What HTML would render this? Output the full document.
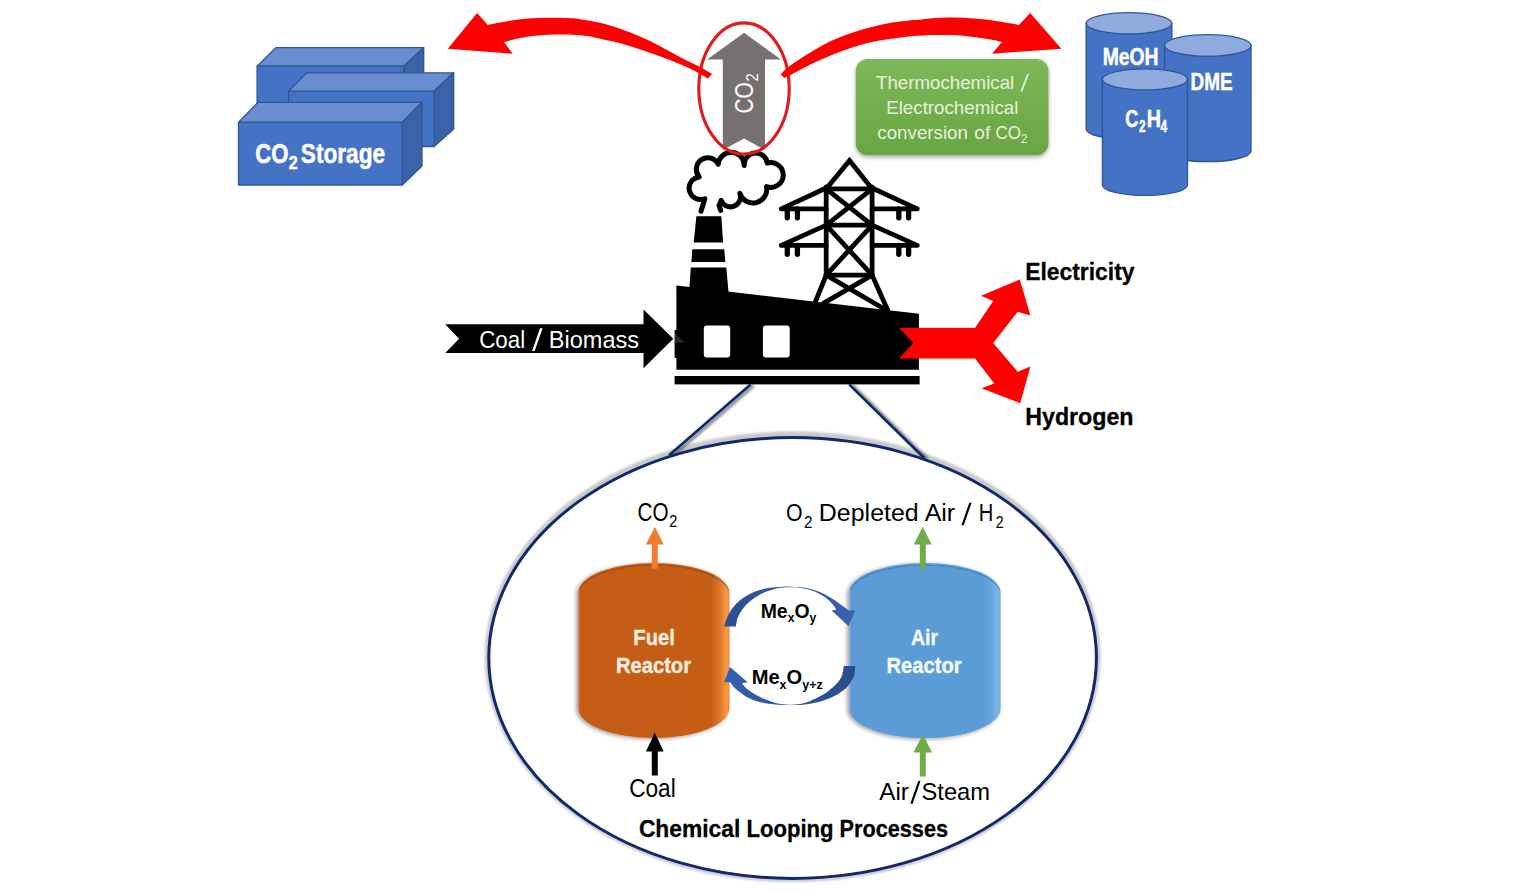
<!DOCTYPE html>
<html>
<head>
<meta charset="utf-8">
<title>Chemical Looping Processes</title>
<style>
html,body{margin:0;padding:0;background:#ffffff;}
body{width:1537px;height:893px;overflow:hidden;font-family:"Liberation Sans",sans-serif;}
svg{display:block;}
text{font-family:"Liberation Sans",sans-serif;}
</style>
</head>
<body>
<svg width="1537" height="893" viewBox="0 0 1537 893">
<defs>
<linearGradient id="gGreen" x1="0" y1="0" x2="0" y2="1"><stop offset="0" stop-color="#7CB85A"/><stop offset="1" stop-color="#6AA543"/></linearGradient>
<filter id="fShadow" x="-10%" y="-10%" width="120%" height="130%"><feGaussianBlur in="SourceAlpha" stdDeviation="2"/><feOffset dx="0" dy="2"/><feComponentTransfer><feFuncA type="linear" slope="0.35"/></feComponentTransfer><feMerge><feMergeNode/><feMergeNode in="SourceGraphic"/></feMerge></filter>
<linearGradient id="gOrange" x1="0" y1="0" x2="1" y2="0"><stop offset="0" stop-color="#CF7436"/><stop offset="0.015" stop-color="#C55C13"/><stop offset="0.88" stop-color="#C55E17"/><stop offset="0.94" stop-color="#DE792D"/><stop offset="0.982" stop-color="#FB9A45"/><stop offset="1" stop-color="#E58535"/></linearGradient>
<linearGradient id="gBlue" x1="0" y1="0" x2="1" y2="0"><stop offset="0" stop-color="#73AADC"/><stop offset="0.015" stop-color="#5B9BD5"/><stop offset="0.88" stop-color="#5C9CD6"/><stop offset="0.94" stop-color="#68A6DD"/><stop offset="0.982" stop-color="#7DB8EC"/><stop offset="1" stop-color="#6FAADF"/></linearGradient>
<linearGradient id="gLoopU" x1="0" y1="0" x2="1" y2="0"><stop offset="0" stop-color="#2B4F91"/><stop offset="1" stop-color="#3A63AE"/></linearGradient>
<linearGradient id="gLoopL" x1="0" y1="0" x2="1" y2="0"><stop offset="0" stop-color="#3360B4"/><stop offset="1" stop-color="#2A4C8C"/></linearGradient>
<filter id="fSoft" x="-10%" y="-10%" width="120%" height="120%"><feGaussianBlur in="SourceAlpha" stdDeviation="2"/><feOffset dx="-2.5" dy="0.5"/><feComponentTransfer><feFuncA type="linear" slope="0.4"/></feComponentTransfer><feMerge><feMergeNode/><feMergeNode in="SourceGraphic"/></feMerge></filter>
<filter id="fEll" x="-10%" y="-10%" width="120%" height="120%"><feGaussianBlur in="SourceAlpha" stdDeviation="1.4"/><feOffset dx="3" dy="0.5"/><feComponentTransfer><feFuncA type="linear" slope="0.6"/></feComponentTransfer><feMerge><feMergeNode/><feMergeNode in="SourceGraphic"/></feMerge></filter>
<filter id="fEll2" x="-5%" y="-5%" width="110%" height="110%"><feGaussianBlur in="SourceAlpha" stdDeviation="1.8"/><feOffset dx="0" dy="-3.2"/><feComponentTransfer><feFuncA type="linear" slope="0.38"/></feComponentTransfer><feMerge><feMergeNode/><feMergeNode in="SourceGraphic"/></feMerge></filter>
<filter id="fBlur1" x="-3%" y="-3%" width="106%" height="106%"><feGaussianBlur stdDeviation="0.9"/></filter>
</defs>
<rect x="0" y="0" width="1537" height="893" fill="#ffffff"/>
<!--STORAGE-->
<g stroke="#2F5597" stroke-width="1.3" stroke-linejoin="round">
 <!-- box1 back-left -->
 <polygon points="257.1,66.2 275.8,47.7 423.7,47.7 403.7,66.2" fill="#698ED0"/>
 <polygon points="403.7,66.2 423.7,47.7 423.7,110 403.7,128" fill="#3A62A6"/>
 <rect x="257.1" y="66.2" width="146.6" height="62" fill="#4472C4"/>
 <!-- box2 middle-right -->
 <polygon points="288.5,91.3 306.6,72.8 453.7,72.8 434.1,91.3" fill="#698ED0"/>
 <polygon points="434.1,91.3 453.7,72.8 453.7,129 434.1,146.5" fill="#3A62A6"/>
 <rect x="288.5" y="91.3" width="145.6" height="55.2" fill="#4472C4"/>
 <!-- box3 front -->
 <polygon points="238.5,122.3 258,102.3 422,102.3 402.3,122.3" fill="#698ED0"/>
 <polygon points="402.3,122.3 422,102.3 422,166 402.3,185.1" fill="#3A62A6"/>
 <rect x="238.5" y="122.3" width="163.8" height="62.8" fill="#4472C4"/>
</g>
<g fill="#ffffff" stroke="#ffffff" stroke-width="0.5"><text x="255.30" y="163.3" font-size="28" font-weight="bold" textLength="33.23" lengthAdjust="spacingAndGlyphs">CO</text><text x="288.65" y="168.8" font-size="18.5" font-weight="bold" textLength="8.99" lengthAdjust="spacingAndGlyphs">2</text><text x="300.79" y="163.3" font-size="28" font-weight="bold" textLength="84.36" lengthAdjust="spacingAndGlyphs">Storage</text></g>
<!--GREENBOX-->
<rect x="855.7" y="59.1" width="192.8" height="96.1" rx="12" ry="12" fill="url(#gGreen)" filter="url(#fShadow)"/>
<g fill="#E6F3DB"><text x="876.01" y="88.6" font-size="18.2" textLength="138.29" lengthAdjust="spacingAndGlyphs">Thermochemical</text><polygon points="1020.4,91.6 1022.3,91.6 1029,74 1027.1,74"/><text x="886.20" y="113.7" font-size="18.2" textLength="132.26" lengthAdjust="spacingAndGlyphs">Electrochemical</text><text x="877.27" y="138.6" font-size="18.2" textLength="90.70" lengthAdjust="spacingAndGlyphs">conversion</text><text x="974.31" y="138.6" font-size="18.2" textLength="15.87" lengthAdjust="spacingAndGlyphs">of</text><text x="995.48" y="138.6" font-size="18.2" textLength="25.42" lengthAdjust="spacingAndGlyphs">CO</text><text x="1020.96" y="142.8" font-size="12" textLength="6.43" lengthAdjust="spacingAndGlyphs">2</text></g>
<!--CYLINDERS-->
<g stroke="#2F5597" stroke-width="1.3">
 <path d="M1086.1,23.35 L1086.1,128.9 A42.9,10.65 0 0 0 1171.9,128.9 L1171.9,23.35 Z" fill="#4472C4"/>
 <ellipse cx="1129" cy="23.35" rx="42.9" ry="10.65" fill="#8FAADC"/>
 <path d="M1164.6,45.45 L1164.6,150.9 A43.2,10.75 0 0 0 1251,150.9 L1251,45.45 Z" fill="#4472C4"/>
 <ellipse cx="1207.8" cy="45.45" rx="43.2" ry="10.75" fill="#8FAADC"/>
 <path d="M1102.4,79.35 L1102.4,184.9 A42.55,10.55 0 0 0 1187.5,184.9 L1187.5,79.35 Z" fill="#4472C4"/>
 <ellipse cx="1144.95" cy="79.35" rx="42.55" ry="10.55" fill="#8FAADC"/>
</g>
<g fill="#ffffff" stroke="#ffffff" stroke-width="0.5"><text x="1102.72" y="64.6" font-size="23.5" font-weight="bold" textLength="55.85" lengthAdjust="spacingAndGlyphs">MeOH</text><text x="1190.47" y="90.4" font-size="23.5" font-weight="bold" textLength="42.13" lengthAdjust="spacingAndGlyphs">DME</text><text x="1125.23" y="127.3" font-size="23.5" font-weight="bold" textLength="12.98" lengthAdjust="spacingAndGlyphs">C</text><text x="1139.04" y="131.8" font-size="15.6" font-weight="bold" textLength="6.61" lengthAdjust="spacingAndGlyphs">2</text><text x="1146.74" y="127.3" font-size="23.5" font-weight="bold" textLength="14.26" lengthAdjust="spacingAndGlyphs">H</text><text x="1160.45" y="131.8" font-size="15.6" font-weight="bold" textLength="6.59" lengthAdjust="spacingAndGlyphs">4</text></g>
<!--FACTORY-->
<g fill="none" stroke="#000000" stroke-width="4.8" stroke-linecap="round" stroke-linejoin="round">
 <!-- pylon -->
 <path d="M826.2,188.8 L849.5,160.6 L872.1,188.8" stroke-linejoin="miter"/>
 <path d="M826.2,187 L826.2,275.1 M872.1,187 L872.1,275.1"/>
 <path d="M826.2,188.8 H872.1 M826.2,225.1 H872.1 M826.2,275.1 H872.1"/>
 <path d="M826.2,188 L781.3,208.9 H826.2 M872.1,188 L917.2,208.9 H872.1"/>
 <path d="M826.2,225.1 L781.3,245.4 H826.2 M872.1,225.1 L917.2,245.4 H872.1"/>
 <path d="M787.3,208.9 V217.8 M797.4,208.9 V217.8 M898.8,208.9 V217.8 M908.6,208.9 V217.8" stroke-width="5.3"/>
 <path d="M787.3,245.4 V254.3 M797.4,245.4 V254.3 M898.8,245.4 V254.3 M908.6,245.4 V254.3" stroke-width="5.3"/>
 <path d="M826.2,188.8 L872.1,225.1 M872.1,188.8 L826.2,225.1"/>
 <path d="M826.2,225.1 L872.1,275.1 M872.1,225.1 L826.2,275.1"/>
 <path d="M826.2,275.1 L815.3,302 M872.1,275.1 L887.6,310"/>
 <path d="M826.2,275.1 L884.3,309 M872.1,275.1 L823.3,303.4"/>
</g>
<!-- smoke -->
<path d="M701,211.3 L704.8,198.7 A11.36,11.36 0 1 1 699.3,176.9 A11.48,11.48 0 1 1 718.2,164.3 A13.02,13.02 0 0 1 744.2,165.6 A11.62,11.62 0 0 1 767.3,163.1 A12.40,12.40 0 1 1 766.5,186.6 A13.78,13.78 0 0 1 739.8,193.3 A10.00,10.00 0 0 1 721.1,200.4 L719,205.5 L720.7,210.5" fill="#ffffff" stroke="#000000" stroke-width="5" stroke-linecap="round" stroke-linejoin="round"/>
<g fill="#000000">
 <polygon points="696.4,216.2 721.3,216.2 723.1,242.5 693.7,242.5"/>
 <polygon points="692.3,249.3 724.2,249.3 725.4,261.9 691.4,261.9"/>
 <polygon points="690.8,267.6 726.3,267.6 728.6,293 689,293"/>
 <polygon points="676.4,285.5 918.9,313.7 918.9,369.8 676.4,369.8"/>
 <rect x="674.6" y="330" width="4" height="28"/>
 <rect x="674.6" y="376" width="245" height="8.4"/>
</g>
<polygon points="675.2,333.5 684.5,342.6 675.2,342.8" fill="#4a4a4a" opacity="0.55"/>
<rect x="703.8" y="325.4" width="26.4" height="32" rx="3" ry="3" fill="#ffffff"/>
<rect x="762.9" y="325.6" width="26.8" height="31.8" rx="3" ry="3" fill="#ffffff"/>
<!--CO2ARROW-->
<polygon points="744.1,32.7 780.8,59.4 765,59.4 765,150 744.1,138.5 722.8,150 722.8,59.4 707.2,59.4" fill="#767171"/>
<g fill="#ffffff"><text transform="translate(752.9,113.50) rotate(-90)" font-size="25" textLength="31.32" lengthAdjust="spacingAndGlyphs">CO</text><text transform="translate(758.2,81.38) rotate(-90)" font-size="16.6" textLength="8.18" lengthAdjust="spacingAndGlyphs">2</text></g>
<ellipse cx="744" cy="88.5" rx="45.2" ry="65.6" fill="none" stroke="#DE1A1C" stroke-width="3.1"/>
<!--REDARROWS-->
<path d="M447.8,48.8 L477.1,12.9 L487.8,24.9 C491.2,24.2 501.6,22.1 508.3,21.0 C515.0,19.9 521.3,19.0 527.8,18.5 C534.3,18.0 540.9,17.9 547.4,17.8 C553.9,17.7 561.5,17.9 566.9,18.1 C572.3,18.3 574.5,18.4 580.0,19.2 C585.5,20.0 593.5,21.1 600.2,22.7 C606.9,24.3 613.6,26.4 620.3,28.7 C627.0,31.0 633.8,33.8 640.5,36.8 C647.2,39.8 653.9,42.9 660.6,46.4 C667.3,49.9 674.1,54.0 680.8,57.5 C687.5,61.0 695.8,64.7 701.0,67.5 C706.2,70.3 710.2,73.0 712.1,74.1 L708.0,78.6 C706.0,77.4 700.4,73.9 695.9,71.6 C691.4,69.2 686.7,67.0 680.8,64.5 C674.9,62.0 667.3,59.0 660.6,56.5 C653.9,54.0 647.2,51.6 640.5,49.4 C633.8,47.2 627.0,45.1 620.3,43.3 C613.6,41.5 605.2,39.9 600.2,38.8 C595.2,37.7 593.9,37.2 590.0,36.6 C586.1,36.0 582.1,35.4 576.6,35.1 C571.1,34.8 563.6,34.5 557.1,34.6 C550.6,34.7 544.1,35.0 537.6,35.6 C531.1,36.2 523.7,37.4 518.1,38.5 C512.5,39.6 506.3,41.4 503.9,42.0 L512.7,53.7 Z" fill="#FF0000"/>
<path d="M780.6,74.6 C782.2,73.1 785.2,69.2 790.2,65.5 C795.2,61.8 803.6,56.4 810.3,52.4 C817.0,48.4 823.8,44.5 830.5,41.3 C837.2,38.1 843.9,35.6 850.6,33.3 C857.3,30.9 864.1,29.0 870.8,27.2 C877.5,25.4 884.3,23.9 891.0,22.7 C897.7,21.5 906.3,20.7 911.1,20.2 C915.9,19.7 916.1,20.0 920.0,19.7 C923.9,19.4 928.8,18.5 934.5,18.1 C940.2,17.8 947.5,17.5 954.0,17.6 C960.5,17.7 967.1,18.0 973.6,18.5 C980.1,19.0 985.6,19.4 993.1,20.5 C1000.6,21.6 1014.6,24.2 1018.9,24.9 L1030.2,12.9 L1061.4,48.8 L992.1,53.7 L1001.9,42.0 C1000.4,41.7 997.8,40.8 993.1,40.0 C988.4,39.2 980.1,37.9 973.6,37.1 C967.1,36.3 960.5,35.4 954.0,35.1 C947.5,34.8 940.2,35.0 934.5,35.1 C928.8,35.2 923.9,35.6 920.0,35.8 C916.1,36.0 915.9,35.8 911.1,36.3 C906.3,36.8 897.7,37.8 891.0,38.8 C884.3,39.8 877.5,40.8 870.8,42.3 C864.1,43.8 857.3,45.7 850.6,47.9 C843.9,50.1 837.2,52.6 830.5,55.4 C823.8,58.2 816.2,61.6 810.3,64.5 C804.4,67.4 799.5,70.3 795.2,72.6 C790.9,74.9 786.4,77.2 784.6,78.1 Z" fill="#FF0000"/>
<!--COALARROW-->
<polygon points="445.2,324.2 643.5,324.2 643.5,309.5 673.3,338.7 643.5,368.2 643.5,352.9 445.2,352.9 459.1,338.7" fill="#000000"/>
<g fill="#ffffff"><text x="479.14" y="347.5" font-size="24.6" textLength="46.10" lengthAdjust="spacingAndGlyphs">Coal</text><polygon points="532.1,351 534.7,351 542.6,328.2 540,328.2"/><text x="548.84" y="347.5" font-size="24.6" textLength="90.19" lengthAdjust="spacingAndGlyphs">Biomass</text></g>
<!--YARROW-->
<polygon points="898.9,327.7 975.1,327.7 993.2,301.1 981.1,295.7 1019.8,279.4 1030.4,315.5 1017.7,311.7 993.2,343 1017.7,371.7 1030.4,366.6 1020.2,403.2 981.5,388.3 994.3,383.6 975.1,358.5 898.9,358.5 913.4,343" fill="#FF0000"/>
<g fill="#000000" stroke="#000000" stroke-width="0.3"><text x="1025.19" y="280.0" font-size="24.4" font-weight="bold" textLength="109.28" lengthAdjust="spacingAndGlyphs">Electricity</text><text x="1025.21" y="424.6" font-size="24.4" font-weight="bold" textLength="108.35" lengthAdjust="spacingAndGlyphs">Hydrogen</text></g>
<!--BIGELLIPSE-->
<ellipse cx="792.6" cy="656.7" rx="308" ry="225.4" fill="#C9C9C9" filter="url(#fBlur1)"/>
<g fill="none" stroke="#10296A" stroke-width="2.7" filter="url(#fEll)">
<path d="M750.6,384.4 L669.1,455.2 M849.2,384.4 L924.2,458"/>
</g>
<ellipse cx="792.6" cy="658" rx="303.8" ry="220.4" fill="#ffffff" stroke="#10296A" stroke-width="3"/>
<!--REACTORS-->
<path d="M578.4,592.6 A75.5,29.7 0 0 1 729.4,592.6 L729.4,708.5 A75.5,29.5 0 0 1 578.4,708.5 Z" fill="url(#gOrange)" filter="url(#fSoft)"/>
<path d="M579.4,590 A75.5,29.7 0 0 1 728.4,590" fill="none" stroke="#8F3F08" stroke-opacity="0.55" stroke-width="1.2"/>
<path d="M849.4,592.6 A75.6,29.7 0 0 1 1000.6,592.6 L1000.6,708.7 A75.6,29.5 0 0 1 849.4,708.7 Z" fill="url(#gBlue)" filter="url(#fSoft)"/>
<path d="M850.4,590 A75.6,29.7 0 0 1 999.6,590" fill="none" stroke="#2F6FB0" stroke-opacity="0.5" stroke-width="1.2"/>
<g fill="#FDEEDF" stroke="#FDEEDF" stroke-width="0.35"><text x="633.37" y="644.6" font-size="22" font-weight="bold" textLength="41.44" lengthAdjust="spacingAndGlyphs">Fuel</text><text x="615.89" y="673.0" font-size="22" font-weight="bold" textLength="75.19" lengthAdjust="spacingAndGlyphs">Reactor</text></g>
<g fill="#F2FAFF" stroke="#F2FAFF" stroke-width="0.35"><text x="910.98" y="644.7" font-size="22" font-weight="bold" textLength="27.14" lengthAdjust="spacingAndGlyphs">Air</text><text x="886.54" y="673.3" font-size="22" font-weight="bold" textLength="75.09" lengthAdjust="spacingAndGlyphs">Reactor</text></g>
<!-- small arrows -->
<polygon points="654.8,526.7 663.7,544.5 657.8,544.5 657.8,568.7 651.8,568.7 651.8,544.5 645.9,544.5" fill="#ED7D31"/>
<polygon points="922.7,526.7 931.7,544.5 925.8,544.5 925.8,568.7 919.8,568.7 919.8,544.5 913.7,544.5" fill="#70AD47"/>
<polygon points="654.8,732.7 663.7,751.5 657.8,751.5 657.8,775.4 651.8,775.4 651.8,751.5 645.9,751.5" fill="#000000"/>
<polygon points="922.8,734.4 932.1,752.6 925.8,752.6 925.8,776.4 919.8,776.4 919.8,752.6 913.4,752.6" fill="#70AD47"/>
<!--LOOPARROWS-->
<path d="M724.1,626.4 C724.6,624.9 725.7,620.6 727.1,617.6 C728.5,614.6 730.0,611.3 732.5,608.2 C735.0,605.1 738.1,601.6 741.9,598.8 C745.7,596.0 750.8,593.2 755.3,591.4 C759.8,589.6 764.2,588.9 768.7,588.1 C773.2,587.3 778.4,586.9 782.2,586.7 C786.0,586.5 787.9,586.5 791.7,586.7 C795.5,586.9 800.7,586.9 805.2,587.7 C809.7,588.5 814.1,589.6 818.6,591.4 C823.1,593.2 828.1,596.1 832.0,598.5 C835.9,600.9 839.3,603.5 842.1,605.5 C844.9,607.5 847.7,609.8 848.8,610.6 L855.2,610.6 L848.5,626.3 L831.7,610.6 L836.4,609.6 C835.7,608.6 833.9,605.5 832.0,603.5 C830.1,601.5 828.1,599.5 825.3,597.5 C822.5,595.5 818.6,593.3 815.2,591.8 C811.9,590.3 808.6,589.5 805.2,588.7 C801.9,588.0 798.4,587.5 795.1,587.3 C791.8,587.1 788.8,587.1 785.5,587.3 C782.2,587.5 779.4,587.7 775.5,588.7 C771.6,589.7 766.0,591.5 762.0,593.4 C758.0,595.3 754.4,597.7 751.3,600.2 C748.2,602.7 745.5,605.3 743.2,608.2 C741.0,611.1 739.0,614.6 737.8,617.6 C736.6,620.6 736.1,624.9 735.8,626.4 Z" fill="url(#gLoopU)"/>
<path d="M855.2,666.1 C855.0,667.6 855.2,672.2 854.2,675.2 C853.2,678.2 851.5,681.2 849.5,683.9 C847.5,686.6 845.0,689.1 842.1,691.3 C839.2,693.5 835.9,695.5 832.0,697.3 C828.1,699.1 823.1,700.8 818.6,702.0 C814.1,703.2 809.1,703.9 805.2,704.4 C801.3,704.9 798.9,704.9 795.1,705.0 C791.3,705.1 786.6,705.2 782.2,705.0 C777.8,704.8 773.2,704.4 768.7,703.7 C764.2,703.0 759.2,702.0 755.3,700.7 C751.4,699.4 748.6,698.0 745.2,696.0 C741.9,694.0 737.7,690.9 735.2,688.6 C732.7,686.3 731.2,683.3 730.4,682.2 L724.1,681.9 L730.1,667.1 L747.6,682.2 L741.9,683.2 C742.7,684.1 744.4,686.7 746.6,688.6 C748.8,690.5 752.2,692.8 755.3,694.6 C758.4,696.4 762.0,697.9 765.4,699.3 C768.8,700.7 772.1,702.1 775.5,703.0 C778.9,703.9 782.2,704.3 785.5,704.6 C788.8,704.9 791.8,704.9 795.1,704.6 C798.4,704.3 801.9,703.7 805.2,702.7 C808.6,701.7 812.1,700.2 815.2,698.7 C818.3,697.2 821.2,695.8 824.0,694.0 C826.8,692.2 829.6,689.9 832.0,687.9 C834.4,685.9 836.4,684.0 838.1,681.9 C839.8,679.8 841.2,677.8 842.1,675.2 C843.0,672.6 843.5,667.6 843.8,666.1 Z" fill="url(#gLoopL)"/>
<g fill="#000000"><text x="760.68" y="617.6" font-size="20.3" font-weight="bold" textLength="55.57" lengthAdjust="spacingAndGlyphs">Me<tspan font-size="12.6" dy="4.4">x</tspan><tspan font-size="20.3" dy="-4.4">O</tspan><tspan font-size="12.6" dy="4.4">y</tspan></text><text x="751.64" y="684.3" font-size="20.3" font-weight="bold" textLength="71.06" lengthAdjust="spacingAndGlyphs">Me<tspan font-size="12.6" dy="4.4">x</tspan><tspan font-size="20.3" dy="-4.4">O</tspan><tspan font-size="12.6" dy="4.4">y+z</tspan></text></g>
<!--LABELS-->
<g fill="#000000"><text x="637.50" y="521.0" font-size="25" textLength="31.01" lengthAdjust="spacingAndGlyphs">CO</text><text x="669.22" y="526.8" font-size="16.8" textLength="8.06" lengthAdjust="spacingAndGlyphs">2</text><text x="785.94" y="521.4" font-size="24.6" textLength="16.58" lengthAdjust="spacingAndGlyphs">O</text><text x="803.95" y="527.8" font-size="16.8" textLength="8.37" lengthAdjust="spacingAndGlyphs">2</text><text x="818.88" y="521.4" font-size="24.6" textLength="99.77" lengthAdjust="spacingAndGlyphs">Depleted</text><text x="924.67" y="521.4" font-size="24.6" textLength="30.54" lengthAdjust="spacingAndGlyphs">Air</text><polygon points="961.4,525.3 963.7,525.3 971.6,502.7 969.3,502.7"/><text x="978.80" y="521.4" font-size="24.6" textLength="14.53" lengthAdjust="spacingAndGlyphs">H</text><text x="995.69" y="527.7" font-size="16.8" textLength="7.85" lengthAdjust="spacingAndGlyphs">2</text><text x="629.14" y="796.5" font-size="25" textLength="46.60" lengthAdjust="spacingAndGlyphs">Coal</text><text x="879.23" y="799.8" font-size="24.6" textLength="29.69" lengthAdjust="spacingAndGlyphs">Air</text><polygon points="910.3,803.7 912.6,803.7 920.5,780.9 918.2,780.9"/><text x="921.49" y="799.8" font-size="24.6" textLength="68.58" lengthAdjust="spacingAndGlyphs">Steam</text></g>
<g fill="#000000" stroke="#000000" stroke-width="0.3"><text x="638.90" y="836.8" font-size="24.4" font-weight="bold" textLength="101.32" lengthAdjust="spacingAndGlyphs">Chemical</text><text x="746.44" y="836.8" font-size="24.4" font-weight="bold" textLength="87.06" lengthAdjust="spacingAndGlyphs">Looping</text><text x="839.55" y="836.8" font-size="24.4" font-weight="bold" textLength="108.51" lengthAdjust="spacingAndGlyphs">Processes</text></g>
</svg>
</body>
</html>
